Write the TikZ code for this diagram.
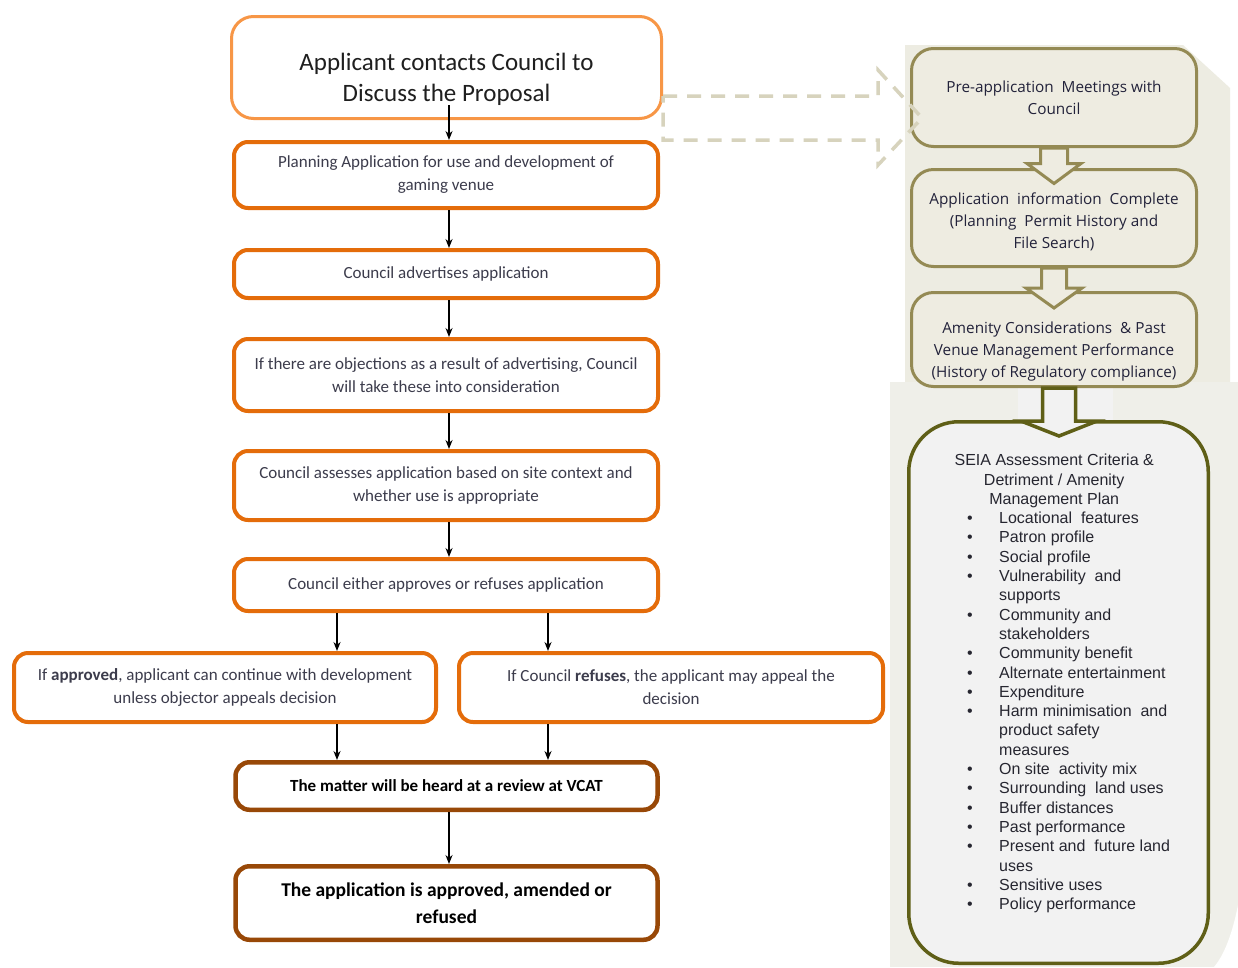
\documentclass[tikz,border=0pt]{standalone}
\usepackage{fontspec}
\setmainfont{Carlito}
\newfontfamily\rfont{Open Sans}
\newfontfamily\afont{Liberation Sans}
\usetikzlibrary{arrows.meta,calc}
\definecolor{orA}{HTML}{F79646}
\definecolor{orB}{HTML}{E46C0A}
\definecolor{brn}{HTML}{984807}
\definecolor{olv}{HTML}{948A54}
\definecolor{dolv}{HTML}{5F5F17}
\definecolor{beigebox}{HTML}{EEECE1}
\definecolor{pnl}{HTML}{EDECE2}
\definecolor{pnlb}{HTML}{EFEFE9}
\definecolor{lgray}{HTML}{F2F2F2}
\definecolor{dsh}{HTML}{D7D3BD}
\definecolor{txtL}{HTML}{3C3C4C}
\definecolor{txtR}{HTML}{22223A}
\definecolor{txtS}{HTML}{262630}
\begin{document}
\begin{tikzpicture}[x=1pt,y=-1pt,
  abox/.style={draw=orA, line width=3pt, rounded corners=22pt, fill=white, align=center, inner sep=0pt, text=black!88, font=\fontsize{25}{31}\selectfont},
  lbox/.style={draw=orB, line width=4pt, rounded corners=14pt, fill=white, align=center, inner sep=0pt, text=txtL, font=\fontsize{17}{23}\selectfont},
  bbox/.style={draw=brn, line width=4.5pt, rounded corners=14pt, fill=white, align=center, inner sep=0pt, text=black, font=\bfseries\fontsize{17}{23}\selectfont},
  rbox/.style={draw=olv, line width=3pt, rounded corners=22pt, fill=beigebox, align=center, inner sep=0pt, text=txtR, font=\rfont\fontsize{15.3}{21.8}\selectfont, minimum width=285pt},
  sbox/.style={draw=dolv, line width=3.5pt, rounded corners=50pt, fill=lgray, inner sep=0pt},
  arr/.style={-{Stealth[length=9pt,width=7pt]}, line width=1.4pt, black},
  blk/.style={draw=olv, line width=3pt, fill=beigebox, line join=miter},
  blkd/.style={draw=dolv, line width=3.5pt, fill=lgray, line join=miter},
  dblk/.style={draw=dsh, line width=3.5pt, dash pattern=on 14pt off 10pt, line join=miter}
]
\useasboundingbox (0,0) rectangle (1238,967);
\fill[white] (0,0) rectangle (1238,967);
% background panels
\fill[pnl] (905,45) -- (1183,45) -- (1230,88) -- (1230,383) -- (905,383) -- cycle;
\fill[pnlb] (890,382) rectangle (1238,967);
\fill[white] (1238,905) .. controls (1232,935) and (1224,955) .. (1214,967) -- (1238,967) -- cycle;
\fill[lgray] (1018,383) rectangle (1113,421);

% right column
\node[rbox, minimum height=98pt] (R1) at (1054,97.5) {Pre-application\ \ Meetings with\\Council};
\node[rbox, minimum height=97pt] (R2) at (1054,218) {\raisebox{-8pt}[0pt][0pt]{\begin{tabular}{@{}c@{}}Application\ \ information\ \ Complete\\(Planning\ \ Permit History and\\File Search)\end{tabular}}};
\node[rbox, minimum height=94pt] (R3) at (1054,339.5) {\raisebox{-15pt}[0pt][0pt]{\begin{tabular}{@{}c@{}}Amenity Considerations\ \ \& Past\\Venue Management Performance\\(History of Regulatory compliance)\end{tabular}}};
\node[sbox, minimum width=299.5pt, minimum height=541.5pt] (R4) at (1058.5,692.5) {};

\draw[blk] ([xshift=-13.5pt]R1.south) -- ++(27,0) -- ++(0,15.5) -- ++(13.5,0) -- ++(-27,20) -- ++(-27,-20) -- ++(13.5,0) -- cycle;
\draw[blk] ([xshift=-12.5pt]R2.south) -- ++(25,0) -- ++(0,20) -- ++(15.5,0) -- ++(-28,20) -- ++(-28,-20) -- ++(15.5,0) -- cycle;
\draw[blkd] ([xshift=-11.5pt]R3.south) -- ++(33,0) -- ++(0,33) -- ++(21.5,0) -- ++(-38,15) -- ++(-38,-15) -- ++(21.5,0) -- cycle;

\node[anchor=north west, inner sep=0pt, text=txtS, font=\afont\fontsize{16}{19.3}\selectfont] (Slist) at (967,452) {%
\begin{tabular}{@{}p{32pt}@{}l@{}}
\multicolumn{2}{@{}l@{}}{\makebox[174pt][c]{SEIA Assessment\ Criteria \&}}\\
\multicolumn{2}{@{}l@{}}{\makebox[174pt][c]{Detriment / Amenity}}\\
\multicolumn{2}{@{}l@{}}{\makebox[174pt][c]{Management\ Plan}}\\
\textbullet & Locational\ \ features\\
\textbullet & Patron profile\\
\textbullet & Social profile\\
\textbullet & Vulnerability\ \ and\\
 & supports\\
\textbullet & Community and\\
 & stakeholders\\
\textbullet & Community benefit\\
\textbullet & Alternate\ entertainment\\
\textbullet & Expenditure\\
\textbullet & Harm minimisation\ \ and\\
 & product safety\\
 & measures\\
\textbullet & On site\ \ activity mix\\
\textbullet & Surrounding\ \ land uses\\
\textbullet & Buffer distances\\
\textbullet & Past performance\\
\textbullet & Present and\ \ future land\\
 & uses\\
\textbullet & Sensitive uses\\
\textbullet & Policy performance
\end{tabular}};

% left column
\node[abox, minimum width=430pt, minimum height=102pt] (A) at (446.5,67.5) {\raisebox{-19pt}[0pt][0pt]{\begin{tabular}{@{}c@{}}Applicant contacts Council to\\Discuss the Proposal\end{tabular}}};
\draw[dblk] ([yshift=-28.5pt]A.east) -- ++(215,0) -- ++(0,-26) -- ++(44,48) -- ++(-44,47) -- ++(0,-25) -- ++(-215,0) -- cycle;

\node[lbox, minimum width=424pt, minimum height=66pt] (B) at (446,175) {Planning Application for use and development of\\gaming venue};
\node[lbox, minimum width=424pt, minimum height=48pt] (C) at (446,274) {Council advertises application};
\node[lbox, minimum width=424pt, minimum height=72pt] (D) at (446,375) {If there are objections as a result of advertising, Council\\will take these into consideration};
\node[lbox, minimum width=424pt, minimum height=69pt] (E) at (446,485.5) {Council assesses application based on site context and\\whether use is appropriate};
\node[lbox, minimum width=424pt, minimum height=52pt] (F) at (446,585) {Council either approves or refuses application};
\node[lbox, minimum width=422pt, minimum height=69pt] (G) at (225,687.5) {If \textbf{approved}, applicant can continue with development\\unless objector appeals decision};
\node[lbox, minimum width=424pt, minimum height=69pt] (H) at (671,687.5) {If Council \textbf{refuses}, the applicant may appeal the\\decision};
\node[bbox, minimum width=422pt, minimum height=47.5pt] (I) at (446.5,786) {The matter will be heard at a review at VCAT};
\node[bbox, minimum width=422pt, minimum height=73.5pt, font=\bfseries\fontsize{19.5}{27}\selectfont] (J) at (446.5,903) {The application is approved, amended or\\refused};

\coordinate (xl) at (337,0);
\coordinate (xr) at (548,0);
\draw[arr] ([xshift=2.5pt,yshift=15pt]A.south) -- ([xshift=2.5pt]A.south |- B.north);
\draw[arr] ([xshift=3pt]B.south) -- ([xshift=3pt]C.north);
\draw[arr] ([xshift=3pt]C.south) -- ([xshift=3pt]D.north);
\draw[arr] ([xshift=3pt]D.south) -- ([xshift=3pt]E.north);
\draw[arr] ([xshift=3pt]E.south) -- ([xshift=3pt]F.north);
\draw[arr] (F.south -| xl) -- (G.north -| xl);
\draw[arr] (F.south -| xr) -- (H.north -| xr);
\draw[arr] (G.south -| xl) -- (I.north -| xl);
\draw[arr] (H.south -| xr) -- (I.north -| xr);
\draw[arr] ([xshift=2.5pt]I.south) -- ([xshift=2.5pt]J.north);
\end{tikzpicture}
\end{document}
